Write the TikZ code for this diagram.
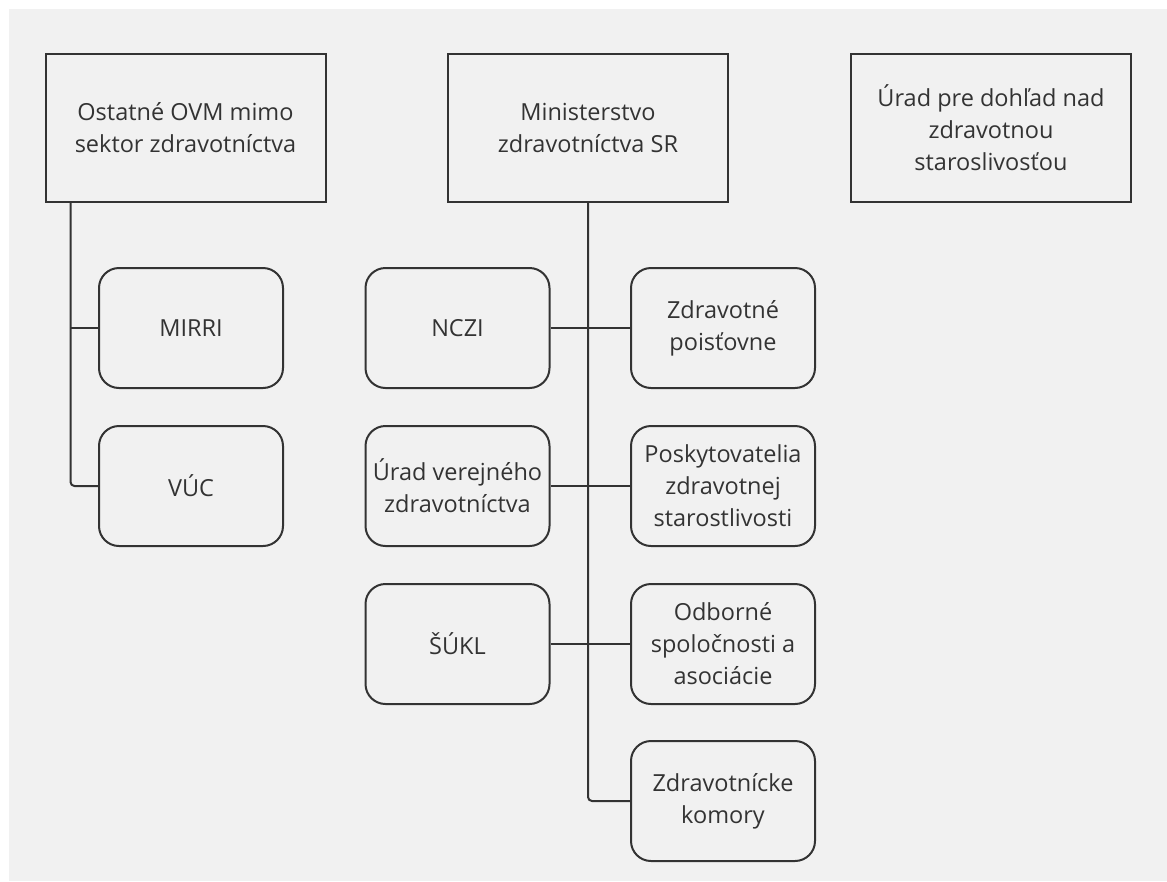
\documentclass[tikz,border=0pt]{standalone}
\usepackage{fontspec}
\setmainfont{Open Sans}
\usepackage{xcolor}
\usetikzlibrary{positioning}
\definecolor{bggray}{HTML}{F1F1F1}
\definecolor{linegray}{HTML}{333333}

\begin{document}
\begin{tikzpicture}[x=1pt,y=-1pt]
\tikzset{every node/.style={text=linegray,font=\fontsize{23.5}{32}\selectfont,align=center}}
\tikzset{topbox/.style={draw=linegray,line width=2pt,minimum width=280pt,minimum height=148pt,inner sep=0pt}}
\tikzset{subbox/.style={draw=linegray,line width=2pt,rounded corners=20pt,minimum width=184pt,minimum height=120pt,inner sep=0pt}}
\tikzset{link/.style={draw=linegray,line width=2pt,rounded corners=4pt}}

\useasboundingbox (0,0) rectangle (1167,881);
\fill[white] (0,0) rectangle (1167,881);
\fill[bggray] (9,9) rectangle (1167,881);

% top row
\node[topbox] (ovm) at (185.5,128) {Ostatné OVM mimo\\sektor zdravotníctva};
\node[topbox] (mz) at (588,128) {Ministerstvo\\zdravotníctva SR};
\node[topbox] (udzs) at (991,128) {Úrad pre dohľad nad\\zdravotnou\\staroslivosťou};

% left column
\node[subbox] (mirri) at (191,328) {MIRRI};
\node[subbox, below=36pt of mirri] (vuc) {VÚC};

% middle column
\node[subbox] (nczi) at (457.5,328) {NCZI};
\node[subbox, below=36pt of nczi] (uvz) {Úrad verejného\\zdravotníctva};
\node[subbox, below=36pt of uvz] (sukl) {ŠÚKL};

% right column
\node[subbox] (zp) at (723,328) {Zdravotné\\poisťovne};
\node[subbox, below=36pt of zp] (pzs) {Poskytovatelia\\zdravotnej\\starostlivosti};
\node[subbox, below=36pt of pzs] (osa) {Odborné\\spoločnosti a\\asociácie};
\node[subbox, below=35pt of osa] (komory) {Zdravotnícke\\komory};

% connectors
\coordinate (ovmtrunk) at ([xshift=26pt]ovm.south west);
\draw[link] (ovmtrunk) |- (vuc.west);
\draw[link] (ovmtrunk |- mirri.west) -- (mirri.west);

\draw[link] (mz.south) |- (komory.west);
\draw[link] (nczi.east) -- (zp.west);
\draw[link] (uvz.east) -- (pzs.west);
\draw[link] (sukl.east) -- (osa.west);

\end{tikzpicture}
\end{document}
